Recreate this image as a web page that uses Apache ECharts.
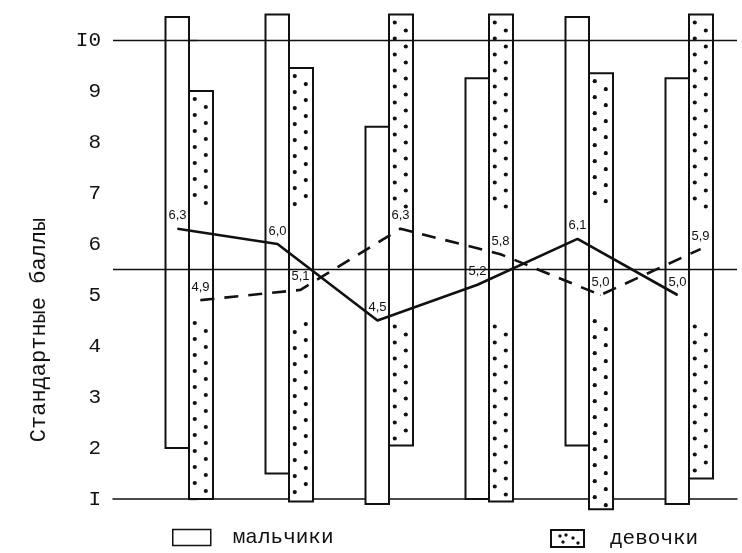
<!DOCTYPE html>
<html><head><meta charset="utf-8">
<script src="https://cdn.jsdelivr.net/npm/echarts@6/dist/echarts.min.js"></script>
<style>html,body{margin:0;padding:0;background:#fff}#c{width:742px;height:553px}</style>
</head><body><div id="c"></div>
<script>
// ---- data ----
const groups = [0, 1, 2, 3, 4, 5];
const boysLow   = [2.0, 1.5, 0.9, 1.0, 2.05, 0.9];
const boysHigh  = [10.45, 10.5, 8.3, 9.25, 10.45, 9.25];
const girlsLow  = [1.0, 0.95, 2.05, 0.95, 0.8, 1.4];
const girlsHigh = [9.0, 9.45, 10.5, 10.5, 9.35, 10.5];
const boysMean  = [6.3, 6.0, 4.5, 5.2, 6.1, 5.0];
const girlsMean = [4.9, 5.1, 6.3, 5.8, 5.0, 5.9];
const yTickLabels = {1: 'I', 2: '2', 3: '3', 4: '4', 5: '5', 6: '6', 7: '7', 8: '8', 9: '9', 10: 'I0'};
const refLevels = [10, 5.5];
const seriesNames = ['мальчики', 'девочки'];
const yAxisTitle = 'Стандартные баллы';

// ---- layout / style constants ----
const INK = '#111';
const MONO = '"Liberation Mono", "DejaVu Sans Mono", monospace';
const BAR_W = 0.235;
const LINE_OFF = 0.115;

function fmt(v) { return v.toFixed(1).replace('.', ','); }

function rangeBar(x0, x1, dotted) {
  return function (params, api) {
    const i = api.value(0), lo = api.value(1), hi = api.value(2);
    const a = api.coord([i + x0, hi]);
    const b = api.coord([i + x1, lo]);
    const w = b[0] - a[0];
    const rect = {
      type: 'rect',
      shape: { x: a[0], y: a[1], width: w, height: b[1] - a[1] },
      style: { fill: '#fff', stroke: INK, lineWidth: 2 }
    };
    if (!dotted) return rect;
    const children = [rect];
    const gapTop = api.coord([0, 6.7])[1], gapBot = api.coord([0, 4.5])[1];
    let k = 0;
    for (let y = a[1] + 8; y < b[1] - 3; y += 8, k++) {
      if (y > gapTop && y < gapBot) continue;
      const cx = a[0] + (k % 2 ? w * 0.7 : w * 0.24);
      children.push({ type: 'circle', shape: { cx: cx, cy: y, r: 2.1 }, style: { fill: INK } });
    }
    return { type: 'group', children: children };
  };
}

// legend icon for dotted series
const ic = document.createElement('canvas');
ic.width = 70; ic.height = 38;
const g = ic.getContext('2d');
g.fillStyle = '#fff'; g.fillRect(0, 0, 70, 38);
g.strokeStyle = INK; g.lineWidth = 4; g.strokeRect(2, 2, 66, 34);
g.fillStyle = INK;
[[20, 14], [32, 12], [46, 18], [56, 28], [26, 26]].forEach(function (p) {
  g.beginPath(); g.arc(p[0], p[1], 3.2, 0, Math.PI * 2); g.fill();
});
const girlsIcon = 'image://' + ic.toDataURL();

const chart = echarts.init(document.getElementById('c'));
chart.setOption({
  animation: false,
  backgroundColor: '#fff',
  grid: { left: 113, right: 5, top: 40, bottom: 54 },
  xAxis: {
    type: 'value', min: -0.76, max: 5.48,
    axisLine: { show: true, onZero: false, lineStyle: { color: INK, width: 1.5 } },
    axisTick: { show: false }, axisLabel: { show: false }, splitLine: { show: false }
  },
  yAxis: {
    type: 'value', min: 1, max: 10, interval: 1,
    axisLine: { show: true, lineStyle: { color: INK, width: 1.5 } },
    axisTick: { show: true, inside: true, length: 8, lineStyle: { color: INK, width: 1.3 } },
    axisLabel: {
      margin: 12, color: INK, fontFamily: MONO, fontSize: 21,
      formatter: function (v) { return yTickLabels[v] || String(v); }
    },
    splitLine: { show: false }
  },
  legend: [
    {
      left: 172, top: 527, padding: 0, itemWidth: 38, itemHeight: 16,
      textStyle: { fontFamily: MONO, fontSize: 21, color: INK, padding: [0, 0, 0, 17] },
      data: [{ name: seriesNames[0], icon: 'rect', itemStyle: { color: '#fff', borderColor: INK, borderWidth: 1.5 } }]
    },
    {
      left: 550, top: 528, padding: 0, itemWidth: 35, itemHeight: 19,
      textStyle: { fontFamily: MONO, fontSize: 21, color: INK, padding: [8, 0, 0, 20] },
      data: [{ name: seriesNames[1], icon: girlsIcon }]
    }
  ],
  graphic: [{
    type: 'text', x: 39, y: 330, rotation: Math.PI / 2,
    style: {
      text: yAxisTitle, font: '22px ' + MONO, fill: INK,
      align: 'center', verticalAlign: 'middle', textAlign: 'center', textVerticalAlign: 'middle'
    }
  }],
  series: [
    {
      type: 'custom', name: seriesNames[0], z: 2,
      itemStyle: { color: '#fff', borderColor: INK },
      renderItem: rangeBar(-BAR_W, 0, false),
      encode: { x: 0, y: [1, 2] },
      data: groups.map(function (i) { return [i, boysLow[i], boysHigh[i]]; })
    },
    {
      type: 'custom', name: seriesNames[1], z: 2,
      itemStyle: { color: '#fff', borderColor: INK },
      renderItem: rangeBar(0, BAR_W + 0.005, true),
      encode: { x: 0, y: [1, 2] },
      data: groups.map(function (i) { return [i, girlsLow[i], girlsHigh[i]]; })
    },
    {
      type: 'line', name: 'boysMean', z: 5,
      data: groups.map(function (i) { return [i - LINE_OFF, boysMean[i]]; }),
      symbol: 'circle', symbolSize: 1,
      itemStyle: { color: INK },
      lineStyle: { color: INK, width: 2.6 },
      label: { show: true, position: 'top', distance: 6, color: INK, fontSize: 13, fontFamily: 'Liberation Sans',
               formatter: function (p) { return fmt(p.value[1]); } },
      markLine: {
        silent: true, symbol: 'none', label: { show: false },
        lineStyle: { color: INK, type: 'solid', width: 1.3 },
        data: refLevels.map(function (v) { return { yAxis: v }; })
      }
    },
    {
      type: 'line', name: 'girlsMean', z: 5,
      data: groups.map(function (i) { return [i + LINE_OFF, girlsMean[i]]; }),
      symbol: 'circle', symbolSize: 1,
      itemStyle: { color: INK },
      lineStyle: { color: INK, width: 2.6, type: [14, 10] },
      label: { show: true, position: 'top', distance: 6, color: INK, fontSize: 13, fontFamily: 'Liberation Sans',
               formatter: function (p) { return fmt(p.value[1]); } }
    }
  ]
});
</script></body></html>
